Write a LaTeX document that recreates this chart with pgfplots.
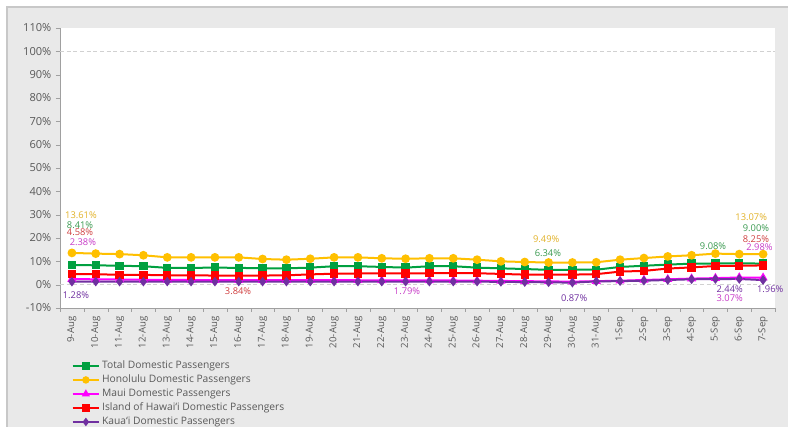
\documentclass[border=0pt]{standalone}
\usepackage{fontspec}
\setmainfont{Open Sans}
\usepackage{pgfplots}
\pgfplotsset{compat=1.18}

\definecolor{bggray}{RGB}{233,233,233}
\definecolor{framegray}{RGB}{200,200,200}
\definecolor{axisgray}{RGB}{160,160,160}
\definecolor{labelgray}{RGB}{89,89,89}
\definecolor{cTotal}{RGB}{0,160,64}
\definecolor{cHnl}{RGB}{255,192,0}
\definecolor{cMaui}{RGB}{255,0,255}
\definecolor{cHaw}{RGB}{255,0,0}
\definecolor{cKau}{RGB}{112,48,160}
\definecolor{tTotal}{RGB}{58,154,80}
\definecolor{tHnl}{RGB}{226,178,40}
\definecolor{tMaui}{RGB}{200,60,200}
\definecolor{tHaw}{RGB}{208,64,64}
\definecolor{tKau}{RGB}{112,48,160}

\begin{document}
\begin{tikzpicture}
% chart background and frame
\fill[white] (-45pt,-89.25pt) rectangle (546pt,231pt);
\filldraw[fill=bggray, draw=framegray, line width=0.8pt] (-39.75pt,-100pt) rectangle (560pt,225.75pt);

\begin{axis}[
    name=ax,
    scale only axis,
    width=536.25pt,
    height=210pt,
    xmin=-0.5, xmax=29.5,
    ymin=-10, ymax=110,
    axis x line*=bottom,
    axis y line*=left,
    axis line style={draw=axisgray},
    axis background/.style={fill=white},
    tick align=outside,
    xtick={0,...,29},
    xticklabels={9-Aug,10-Aug,11-Aug,12-Aug,13-Aug,14-Aug,15-Aug,16-Aug,17-Aug,18-Aug,19-Aug,20-Aug,21-Aug,22-Aug,23-Aug,24-Aug,25-Aug,26-Aug,27-Aug,28-Aug,29-Aug,30-Aug,31-Aug,1-Sep,2-Sep,3-Sep,4-Sep,5-Sep,6-Sep,7-Sep},
    major x tick style={draw=none},
    minor xtick={-0.5,0.5,...,29.5},
    minor x tick style={draw=axisgray},
    minor tick length=3pt,
    xticklabel style={rotate=90, anchor=east, font=\fontsize{7.2}{8}\selectfont, text=labelgray},
    ytick={-10,0,...,110},
    yticklabel={\pgfmathprintnumber{\tick}\%},
    yticklabel style={font=\fontsize{8.3}{9}\selectfont, text=labelgray},
    y tick style={draw=axisgray},
    major tick length=3pt,
    /pgf/number format/assume math mode=true,
    extra y ticks={0,100},
    extra y tick labels={},
    extra y tick style={grid=major, major grid style={draw=black!18, dash pattern=on 3pt off 2pt}},
    legend style={draw=none, fill=none, at={(0,0)}, anchor=north west,
        xshift=8.5pt, yshift=-38pt, font=\fontsize{7.7}{9}\selectfont,
        text=labelgray, inner sep=0pt, row sep=0pt,
        nodes={text height=6pt, text depth=1.5pt, inner sep=1.5pt}},
    legend cell align=left,
    legend image code/.code={\draw[mark repeat=2, mark phase=2, mark size=2pt] plot coordinates {(0cm,0cm) (0.35cm,0cm) (0.7cm,0cm)};},
    every axis plot/.append style={line width=1.5pt},
    clip=false,
]
\addplot[color=cTotal, mark=square*, mark size=2.4pt, mark options={solid}] coordinates {
(0,8.41) (1,8.3) (2,8.1) (3,7.9) (4,7.2) (5,7.2) (6,7.3) (7,7.2) (8,7.0) (9,7.0)
(10,7.3) (11,7.9) (12,7.9) (13,7.6) (14,7.3) (15,7.9) (16,7.9) (17,7.3) (18,7.0) (19,6.7)
(20,6.34) (21,6.4) (22,6.4) (23,7.6) (24,8.1) (25,8.6) (26,9.0) (27,9.08) (28,9.2) (29,9.00)
};
\addlegendentry{Total Domestic Passengers}
\addplot[color=cHnl, mark=*, mark size=2.5pt] coordinates {
(0,13.61) (1,13.3) (2,13.1) (3,12.6) (4,11.7) (5,11.7) (6,11.7) (7,11.7) (8,11.0) (9,10.7)
(10,11.1) (11,11.7) (12,11.7) (13,11.3) (14,11.1) (15,11.3) (16,11.3) (17,10.7) (18,10.0) (19,9.7)
(20,9.49) (21,9.5) (22,9.6) (23,10.7) (24,11.4) (25,12.1) (26,12.6) (27,13.3) (28,13.1) (29,13.07)
};
\addlegendentry{Honolulu Domestic Passengers}
\addplot[color=cMaui, mark=triangle*, mark size=2.5pt] coordinates {
(0,2.38) (1,2.3) (2,2.2) (3,2.1) (4,2.0) (5,2.0) (6,1.9) (7,1.9) (8,1.9) (9,1.9)
(10,1.9) (11,1.9) (12,1.9) (13,1.8) (14,1.79) (15,1.8) (16,1.8) (17,1.7) (18,1.6) (19,1.5)
(20,1.4) (21,1.3) (22,1.5) (23,1.7) (24,2.0) (25,2.3) (26,2.6) (27,2.8) (28,3.07) (29,2.98)
};
\addlegendentry{Maui Domestic Passengers}
\addplot[color=cHaw, mark=square*, mark size=2.4pt] coordinates {
(0,4.58) (1,4.5) (2,4.2) (3,4.2) (4,4.0) (5,4.0) (6,3.9) (7,3.84) (8,3.9) (9,4.0)
(10,4.4) (11,4.7) (12,4.8) (13,4.9) (14,4.8) (15,4.9) (16,4.9) (17,4.9) (18,4.6) (19,4.3)
(20,4.3) (21,4.3) (22,4.5) (23,5.6) (24,5.9) (25,6.9) (26,7.4) (27,8.0) (28,8.1) (29,8.25)
};
\addlegendentry{Island of Hawai‘i Domestic Passengers}
\addplot[color=cKau, mark=diamond*, mark size=2.4pt] coordinates {
(0,1.28) (1,1.3) (2,1.3) (3,1.3) (4,1.3) (5,1.3) (6,1.3) (7,1.3) (8,1.3) (9,1.3)
(10,1.3) (11,1.3) (12,1.3) (13,1.3) (14,1.3) (15,1.3) (16,1.3) (17,1.3) (18,1.2) (19,1.1)
(20,1.0) (21,0.87) (22,1.4) (23,1.5) (24,1.7) (25,2.0) (26,2.3) (27,2.4) (28,2.44) (29,1.96)
};
\addlegendentry{Kaua‘i Domestic Passengers}

% data labels
\begin{scope}[every node/.style={font=\fontsize{7}{8}\selectfont, inner sep=0pt}]
\node[text=tHnl] at (axis cs:0.38,29.6) {13.61\%};
\node[text=tTotal] at (axis cs:0.34,25.7) {8.41\%};
\node[text=tHaw] at (axis cs:0.34,22.3) {4.58\%};
\node[text=tMaui] at (axis cs:0.46,18.4) {2.38\%};
\node[text=tKau] at (axis cs:0.17,-4.7) {1.28\%};
\node[text=tHaw] at (axis cs:6.97,-3.0) {3.84\%};
\node[text=tMaui] at (axis cs:14.06,-3.0) {1.79\%};
\node[text=tHnl] at (axis cs:19.9,19.3) {9.49\%};
\node[text=tTotal] at (axis cs:19.97,13.7) {6.34\%};
\node[text=tKau] at (axis cs:21.07,-6.0) {0.87\%};
\node[text=tTotal] at (axis cs:26.9,16.7) {9.08\%};
\node[text=tKau] at (axis cs:27.6,-2.1) {2.44\%};
\node[text=tMaui] at (axis cs:27.6,-6.0) {3.07\%};
\node[text=tHnl] at (axis cs:28.5,29.1) {13.07\%};
\node[text=tTotal] at (axis cs:28.7,24.4) {9.00\%};
\node[text=tHaw] at (axis cs:28.7,19.3) {8.25\%};
\node[text=tMaui] at (axis cs:28.85,15.9) {2.98\%};
\node[text=tKau] at (axis cs:29.3,-2.1) {1.96\%};
\end{scope}
\end{axis}

\pgfresetboundingbox
\useasboundingbox (-45pt,-89.25pt) rectangle (546pt,231pt);
\end{tikzpicture}
\end{document}
